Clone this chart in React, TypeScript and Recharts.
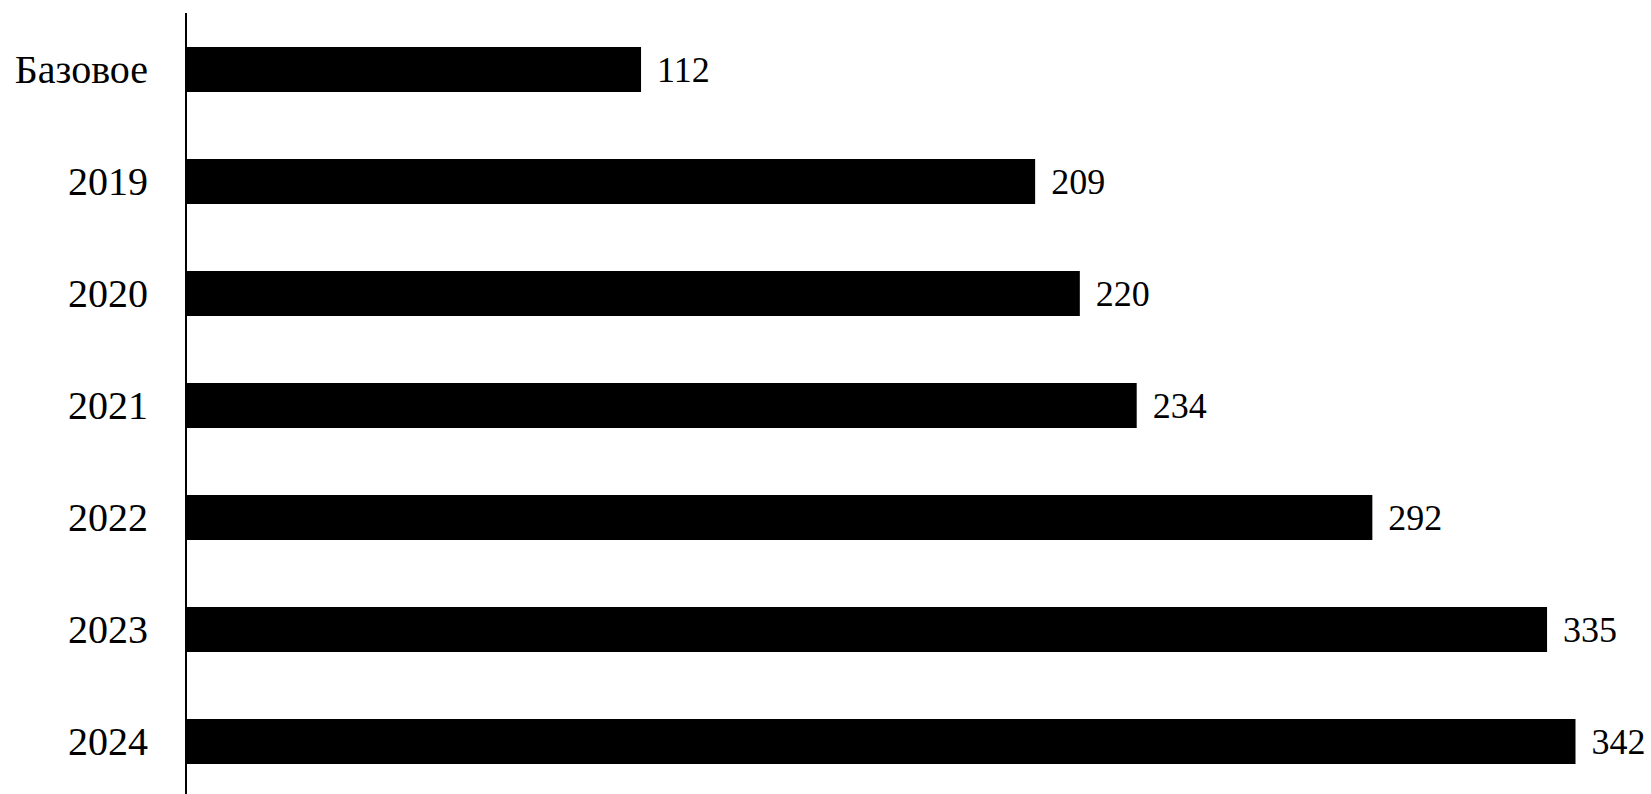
import React from 'react';
import { BarChart, Bar, XAxis, YAxis, LabelList } from 'recharts';

const categories = ['Базовое', '2019', '2020', '2021', '2022', '2023', '2024'];
const values = [112, 209, 220, 234, 292, 335, 342];

const data = categories.map((c, i) => ({ name: c, value: values[i] }));

export default function App() {
  return (
    <div style={{ position: 'absolute', left: 0, top: 0 }}>
      <BarChart
        width={1651}
        height={800}
        data={data}
        layout="vertical"
        margin={{ top: 13, right: 43, bottom: 3, left: 0 }}
        barCategoryGap={0}
      >
        <XAxis type="number" domain={[0, 350]} hide />
        <YAxis
          type="category"
          dataKey="name"
          width={186}
          tickLine={false}
          axisLine={{ stroke: '#000', strokeWidth: 2 }}
          tickMargin={32}
          tick={{ fill: '#000', fontSize: 40, fontFamily: 'Liberation Serif' }}
        />
        <Bar dataKey="value" fill="#000" barSize={45} isAnimationActive={false}>
          <LabelList
            dataKey="value"
            position="right"
            offset={16}
            fill="#000"
            style={{ fontSize: 36, fontFamily: 'Liberation Serif' }}
          />
        </Bar>
      </BarChart>
    </div>
  );
}
